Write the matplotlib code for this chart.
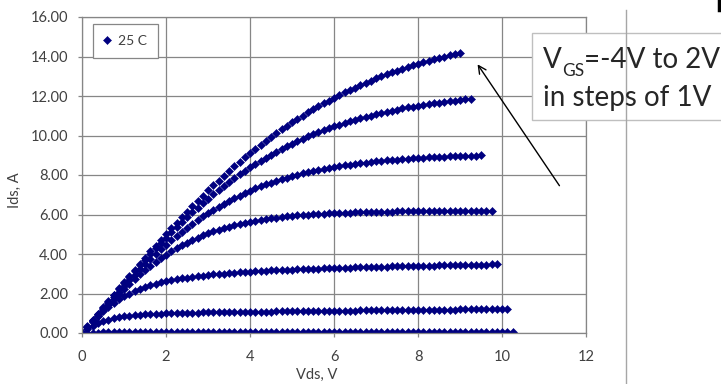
import matplotlib.pyplot as plt
from matplotlib.lines import Line2D
from matplotlib.patches import Rectangle

plt.rcParams['font.family'] = ['Lato', 'DejaVu Sans']

# drain voltage sweep (V), shared by every gate-voltage curve
vds = [0.0, 0.125, 0.25, 0.375, 0.5, 0.625, 0.75, 0.875, 1.0, 1.125, 1.25, 1.375,
       1.5, 1.625, 1.75, 1.875, 2.0, 2.125, 2.25, 2.375, 2.5, 2.625, 2.75, 2.875,
       3.0, 3.125, 3.25, 3.375, 3.5, 3.625, 3.75, 3.875, 4.0, 4.125, 4.25, 4.375,
       4.5, 4.625, 4.75, 4.875, 5.0, 5.125, 5.25, 5.375, 5.5, 5.625, 5.75, 5.875,
       6.0, 6.125, 6.25, 6.375, 6.5, 6.625, 6.75, 6.875, 7.0, 7.125, 7.25, 7.375,
       7.5, 7.625, 7.75, 7.875, 8.0, 8.125, 8.25, 8.375, 8.5, 8.625, 8.75, 8.875,
       9.0, 9.125, 9.25, 9.375, 9.5, 9.625, 9.75, 9.875, 10.0, 10.125, 10.25]

# drain current (A) for Vgs = 2, 1, 0, -1, -2, -3, -4 V
ids_p2 = [0.00, 0.33, 0.65, 0.97, 1.30, 1.62, 1.94, 2.26, 2.58, 2.89, 3.20, 3.51,
          3.82, 4.13, 4.43, 4.72, 5.02, 5.31, 5.59, 5.87, 6.15, 6.43, 6.69, 6.96,
          7.22, 7.47, 7.72, 7.96, 8.20, 8.44, 8.66, 8.89, 9.11, 9.32, 9.53, 9.73,
          9.93, 10.12, 10.31, 10.49, 10.67, 10.84, 11.01, 11.17, 11.33, 11.48,
          11.63, 11.77, 11.91, 12.05, 12.18, 12.31, 12.43, 12.55, 12.67, 12.78,
          12.89, 12.99, 13.09, 13.19, 13.28, 13.37, 13.46, 13.55, 13.63, 13.71,
          13.78, 13.86, 13.93, 13.99, 14.06, 14.12, 14.18]
ids_p1 = [0.00, 0.32, 0.64, 0.95, 1.27, 1.58, 1.90, 2.21, 2.51, 2.82, 3.12, 3.42,
          3.71, 4.00, 4.28, 4.56, 4.83, 5.10, 5.36, 5.62, 5.87, 6.11, 6.35, 6.58,
          6.81, 7.03, 7.24, 7.45, 7.65, 7.84, 8.03, 8.21, 8.39, 8.56, 8.72, 8.88,
          9.03, 9.18, 9.32, 9.46, 9.59, 9.71, 9.83, 9.95, 10.06, 10.17, 10.27,
          10.37, 10.46, 10.55, 10.64, 10.72, 10.80, 10.87, 10.95, 11.01, 11.08,
          11.14, 11.20, 11.26, 11.31, 11.37, 11.42, 11.46, 11.51, 11.55, 11.59,
          11.63, 11.67, 11.71, 11.74, 11.77, 11.80, 11.83, 11.86]
ids_0 = [0.00, 0.31, 0.61, 0.92, 1.22, 1.52, 1.81, 2.10, 2.39, 2.67, 2.95, 3.22,
         3.48, 3.74, 3.99, 4.24, 4.47, 4.70, 4.92, 5.13, 5.34, 5.54, 5.72, 5.90,
         6.08, 6.24, 6.40, 6.55, 6.70, 6.83, 6.96, 7.09, 7.20, 7.32, 7.42, 7.52,
         7.62, 7.70, 7.79, 7.87, 7.94, 8.01, 8.08, 8.14, 8.20, 8.26, 8.31, 8.36,
         8.41, 8.45, 8.49, 8.53, 8.56, 8.60, 8.63, 8.66, 8.69, 8.71, 8.74, 8.76,
         8.78, 8.80, 8.82, 8.84, 8.86, 8.87, 8.89, 8.90, 8.91, 8.93, 8.94, 8.95,
         8.96, 8.97, 8.98, 8.98, 8.99]
ids_m1 = [0.00, 0.29, 0.59, 0.88, 1.16, 1.44, 1.72, 1.98, 2.24, 2.49, 2.74, 2.97,
          3.19, 3.40, 3.60, 3.79, 3.97, 4.14, 4.29, 4.44, 4.58, 4.71, 4.83, 4.94,
          5.04, 5.14, 5.23, 5.31, 5.38, 5.45, 5.52, 5.58, 5.63, 5.68, 5.72, 5.77,
          5.80, 5.84, 5.87, 5.90, 5.93, 5.95, 5.97, 5.99, 6.01, 6.03, 6.04, 6.06,
          6.07, 6.08, 6.09, 6.10, 6.11, 6.12, 6.13, 6.13, 6.14, 6.14, 6.15, 6.15,
          6.16, 6.16, 6.17, 6.17, 6.17, 6.17, 6.18, 6.18, 6.18, 6.18, 6.18, 6.19,
          6.19, 6.19, 6.19, 6.19, 6.19, 6.19, 6.19]
ids_m2 = [0.00, 0.29, 0.57, 0.84, 1.09, 1.32, 1.52, 1.70, 1.86, 2.00, 2.12, 2.23,
          2.33, 2.42, 2.50, 2.57, 2.63, 2.68, 2.73, 2.77, 2.81, 2.85, 2.88, 2.91,
          2.94, 2.97, 2.99, 3.01, 3.03, 3.05, 3.07, 3.09, 3.11, 3.12, 3.14, 3.15,
          3.17, 3.18, 3.19, 3.20, 3.21, 3.22, 3.23, 3.24, 3.25, 3.26, 3.27, 3.28,
          3.29, 3.30, 3.30, 3.31, 3.32, 3.33, 3.33, 3.34, 3.35, 3.35, 3.36, 3.37,
          3.37, 3.38, 3.38, 3.39, 3.40, 3.40, 3.41, 3.41, 3.42, 3.42, 3.43, 3.43,
          3.44, 3.44, 3.45, 3.45, 3.46, 3.46, 3.47, 3.47]
ids_m3 = [0.00, 0.20, 0.37, 0.50, 0.60, 0.68, 0.75, 0.80, 0.84, 0.87, 0.90, 0.92,
          0.94, 0.96, 0.97, 0.98, 0.99, 1.00, 1.01, 1.02, 1.02, 1.03, 1.03, 1.04,
          1.04, 1.05, 1.05, 1.05, 1.06, 1.06, 1.06, 1.07, 1.07, 1.07, 1.08, 1.08,
          1.08, 1.09, 1.09, 1.09, 1.10, 1.10, 1.10, 1.11, 1.11, 1.11, 1.12, 1.12,
          1.12, 1.13, 1.13, 1.13, 1.13, 1.14, 1.14, 1.14, 1.15, 1.15, 1.15, 1.15,
          1.16, 1.16, 1.16, 1.16, 1.17, 1.17, 1.17, 1.17, 1.18, 1.18, 1.18, 1.18,
          1.19, 1.19, 1.19, 1.19, 1.20, 1.20, 1.20, 1.20, 1.21, 1.21]
ids_m4 = [0.00, 0.01, 0.02, 0.02, 0.03, 0.03, 0.03, 0.03, 0.04, 0.04, 0.04, 0.04,
          0.04, 0.04, 0.04, 0.04, 0.04, 0.04, 0.04, 0.04, 0.04, 0.04, 0.04, 0.04,
          0.05, 0.05, 0.05, 0.05, 0.05, 0.05, 0.05, 0.05, 0.05, 0.05, 0.05, 0.05,
          0.05, 0.05, 0.05, 0.05, 0.05, 0.05, 0.05, 0.05, 0.05, 0.05, 0.05, 0.05,
          0.06, 0.06, 0.06, 0.06, 0.06, 0.06, 0.06, 0.06, 0.06, 0.06, 0.06, 0.06,
          0.06, 0.06, 0.06, 0.06, 0.06, 0.06, 0.06, 0.06, 0.07, 0.07, 0.07, 0.07,
          0.07, 0.07, 0.07, 0.07, 0.07, 0.07, 0.07, 0.07, 0.07, 0.07, 0.07]
curves = [ids_p2, ids_p1, ids_0, ids_m1, ids_m2, ids_m3, ids_m4]

x_ticks = [0, 2, 4, 6, 8, 10, 12]
y_ticks = [0, 2, 4, 6, 8, 10, 12, 14, 16]

navy = '#000080'
grey = '#868686'
text_col = '#404040'
W, H = 721, 384

fig = plt.figure(figsize=(W / 100, H / 100), dpi=100)
ax = fig.add_axes([82 / W, 51 / H, 504 / W, 316 / H])

for i, ids in enumerate(curves):
    ax.plot(vds[:len(ids)], ids, linestyle='none', marker='D', markersize=4.5,
            color=navy, markeredgewidth=0.4, label='25 C' if i == 0 else None)

ax.set_xlim(0, 12)
ax.set_ylim(0, 16)
ax.set_xticks(x_ticks)
ax.set_yticks(y_ticks)
ax.set_yticklabels([f'{v:.2f}' for v in y_ticks])
ax.grid(True, color=grey, linewidth=0.9)
ax.set_axisbelow(True)
for s in ax.spines.values():
    s.set_color(grey)
    s.set_linewidth(0.9)
ax.tick_params(axis='both', colors=grey, labelcolor=text_col, labelsize=10.5,
               length=3, width=0.9)
ax.tick_params(axis='y', pad=7)
ax.tick_params(axis='x', pad=9)

ax.set_xlabel('Vds, V', fontsize=10.5, color=text_col)
ax.set_ylabel('Ids, A', fontsize=10.5, color=text_col)
ax.xaxis.set_label_coords((317 - 82) / 504, -(368 - 333) / 316)
ax.yaxis.set_label_coords(-(82 - 22) / 504, (333 - 190) / 316)

leg = ax.legend(loc='upper left', bbox_to_anchor=(11 / 504, 1 - 7 / 316),
                borderaxespad=0, fancybox=False, framealpha=1, edgecolor=grey,
                fontsize=10, handlelength=0.4, handletextpad=0.6, borderpad=0.8)
leg.get_frame().set_linewidth(0.9)
for t in leg.get_texts():
    t.set_color(text_col)

# divider line at the right and the small dark mark at the top corner
fig.add_artist(Line2D([626 / W, 626 / W], [0, 1 - 10 / H],
                      color='#a6a6a6', linewidth=1.0))
fig.add_artist(Line2D([719 / W, 719 / W], [1, 1 - 10 / H],
                      color='black', linewidth=2.5))

# callout box with the gate sweep range
fig.add_artist(Rectangle((532 / W, 1 - 120 / H), 220 / W, 87 / H,
                         facecolor='white', edgecolor='#bfbfbf', linewidth=1.0))
renderer = fig.canvas.get_renderer()
base1 = 1 - 68 / H
t_v = fig.text(543 / W, base1, 'V', fontsize=20, color='#262626', va='baseline')
x_gs = t_v.get_window_extent(renderer).x1 / W
t_gs = fig.text(x_gs, base1 - 8 / H, 'GS', fontsize=12.5, color='#262626',
                va='baseline')
x_rest = t_gs.get_window_extent(renderer).x1 / W
fig.text(x_rest, base1, '=-4V to 2V', fontsize=20, color='#262626', va='baseline')
fig.text(543 / W, 1 - 106 / H, 'in steps of 1V', fontsize=20,
         color='#262626', va='baseline')

ax.annotate('', xy=(476, H - 62), xycoords='figure pixels',
            xytext=(561, H - 188), textcoords='figure pixels',
            arrowprops=dict(arrowstyle='->', color='black', linewidth=1.0,
                            mutation_scale=14))

fig.savefig('out.png', dpi=100)
